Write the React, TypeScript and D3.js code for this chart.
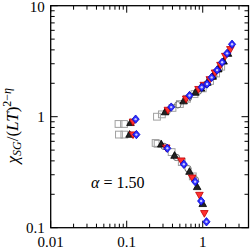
import React from "react";
import * as d3 from "d3";

const xTickLabels = ["0.01", "0.1", "1"];
const yTickLabels = ["0.1", "1", "10"];

// gray open squares
const sqX = [0.078, 0.092, 0.079, 0.093, 0.25, 0.29, 0.4, 0.5, 0.62, 0.78, 1.0, 1.25, 1.5, 1.75, 0.24, 0.255, 0.39, 0.53, 0.74];
const sqY = [0.86, 0.86, 0.69, 0.69, 1.0, 1.05, 1.2, 1.3, 1.45, 1.6, 1.8, 2.1, 2.45, 2.82, 0.58, 0.57, 0.48, 0.39, 0.29];
// gray open circles
const ciX = [0.34, 0.47, 0.65, 0.88, 1.12, 1.4, 1.65, 0.31, 0.45, 0.64, 0.8];
const ciY = [1.12, 1.28, 1.48, 1.7, 1.97, 2.32, 2.7, 0.54, 0.43, 0.34, 0.27];
// black up triangles
const upX = [0.112, 0.109, 0.32, 0.56, 0.8, 0.95, 1.15, 1.35, 1.6, 1.88, 2.15, 0.285, 0.426, 0.67, 0.845, 1.0];
const upY = [0.88, 0.69, 1.1, 1.38, 1.65, 1.8, 2.03, 2.3, 2.68, 3.15, 3.7, 0.564, 0.446, 0.32, 0.233, 0.164];
// red down triangles
const dnX = [0.121, 0.121, 0.348, 0.605, 0.88, 1.03, 1.24, 1.45, 1.71, 1.98, 2.31, 0.331, 0.521, 0.726, 0.905, 1.05];
const dnY = [0.9, 0.69, 1.15, 1.45, 1.77, 1.93, 2.17, 2.49, 2.92, 3.52, 4.05, 0.526, 0.402, 0.282, 0.197, 0.135];
// blue diamonds
const diX = [0.131, 0.134, 0.385, 0.67, 0.97, 1.14, 1.31, 1.545, 1.8, 2.09, 2.43, 0.342, 0.564, 0.795, 0.953, 1.12];
const diY = [0.95, 0.69, 1.22, 1.55, 1.84, 1.97, 2.26, 2.63, 3.09, 3.72, 4.49, 0.519, 0.373, 0.26, 0.174, 0.113];

const W = 250, H = 249;
const L = 50.7, R = 248.5, T = 5.7, B = 227.7;

export default function App() {
  const x = d3.scaleLog().domain([0.01, 4]).range([L, R]);
  const y = d3.scaleLog().domain([0.1, 10]).range([B, T]);

  const xMajor = [0.01, 0.1, 1];
  const xMinor: number[] = [];
  for (const d of [0.01, 0.1, 1]) for (let k = 2; k <= 9; k++) if (d * k <= 4) xMinor.push(d * k);
  const yMajor = [0.1, 1, 10];
  const yMinor: number[] = [];
  for (const d of [0.1, 1]) for (let k = 2; k <= 9; k++) yMinor.push(d * k);

  const font = "'Liberation Serif', 'DejaVu Serif', serif";
  const s = 3.4;
  const sym = (xs: number[], ys: number[], render: (cx: number, cy: number, i: number) => React.ReactNode) =>
    xs.map((v, i) => render(x(v), y(ys[i]), i));

  return (
    <svg width={W} height={H} style={{ position: "absolute", left: 0, top: 0, background: "#fff" }}>
      {xMajor.map((v) => (
        <g key={"xM" + v}>
          <line x1={x(v)} x2={x(v)} y1={B} y2={B - 7} stroke="#000" strokeWidth={1} />
          <line x1={x(v)} x2={x(v)} y1={T} y2={T + 7} stroke="#000" strokeWidth={1} />
        </g>
      ))}
      {xMinor.map((v) => (
        <g key={"xm" + v}>
          <line x1={x(v)} x2={x(v)} y1={B} y2={B - 4} stroke="#000" strokeWidth={1} />
          <line x1={x(v)} x2={x(v)} y1={T} y2={T + 4} stroke="#000" strokeWidth={1} />
        </g>
      ))}
      {yMajor.map((v) => (
        <g key={"yM" + v}>
          <line x1={L} x2={L + 7} y1={y(v)} y2={y(v)} stroke="#000" strokeWidth={1} />
          <line x1={R} x2={R - 7} y1={y(v)} y2={y(v)} stroke="#000" strokeWidth={1} />
        </g>
      ))}
      {yMinor.map((v) => (
        <g key={"ym" + v}>
          <line x1={L} x2={L + 4} y1={y(v)} y2={y(v)} stroke="#000" strokeWidth={1} />
          <line x1={R} x2={R - 4} y1={y(v)} y2={y(v)} stroke="#000" strokeWidth={1} />
        </g>
      ))}
      <rect x={L} y={T} width={R - L} height={B - T} fill="none" stroke="#000" strokeWidth={1.3} />

      {xMajor.map((v, i) => (
        <text key={"xl" + v} x={x(v)} y={B + 19} textAnchor="middle" fontFamily={font} fontSize={15}>
          {xTickLabels[i]}
        </text>
      ))}
      {yMajor.map((v, i) => (
        <text key={"yl" + v} x={L - 6} y={Math.max(y(v) + 5, 12)} textAnchor="end" fontFamily={font} fontSize={15}>
          {yTickLabels[i]}
        </text>
      ))}

      <text transform={`translate(18,${(T + B) / 2 + 9}) rotate(-90)`} textAnchor="middle" fontFamily={font} fontSize={17}>
        <tspan fontStyle="italic">χ</tspan>
        <tspan fontStyle="italic" fontSize={12} dy={3}>SG</tspan>
        <tspan dy={-3}>/(</tspan>
        <tspan fontStyle="italic">LT</tspan>
        <tspan>)</tspan>
        <tspan fontSize={12} dy={-7}>2−</tspan>
        <tspan fontSize={12} fontStyle="italic">η</tspan>
      </text>

      <text x={91} y={188} fontFamily={font} fontSize={16}>
        <tspan fontStyle="italic">α</tspan>
        <tspan> = 1.50</tspan>
      </text>

      {sym(sqX, sqY, (cx, cy, i) => (
        <rect key={"sq" + i} x={cx - s} y={cy - s} width={2 * s} height={2 * s} fill="none" stroke="#a0a0a0" strokeWidth={1} />
      ))}
      {sym(ciX, ciY, (cx, cy, i) => (
        <circle key={"ci" + i} cx={cx} cy={cy} r={3.2} fill="none" stroke="#6a6a6a" strokeWidth={1} />
      ))}
      {sym(upX, upY, (cx, cy, i) => (
        <path key={"up" + i} d={`M${cx},${cy - 4}L${cx + 3.8},${cy + 2.7}L${cx - 3.8},${cy + 2.7}Z`} fill="#222" stroke="#000" strokeWidth={0.8} />
      ))}
      {sym(dnX, dnY, (cx, cy, i) => (
        <path key={"dn" + i} d={`M${cx},${cy + 4}L${cx + 3.8},${cy - 2.7}L${cx - 3.8},${cy - 2.7}Z`} fill="#ff3030" stroke="#c00000" strokeWidth={0.8} />
      ))}
      {sym(diX, diY, (cx, cy, i) => (
        <g key={"di" + i}>
          <path d={`M${cx},${cy - 4.2}L${cx + 3.6},${cy}L${cx},${cy + 4.2}L${cx - 3.6},${cy}Z`} fill="#3030ff" stroke="#0000cc" strokeWidth={0.8} />
          <circle cx={cx} cy={cy} r={1.2} fill="#c8c8ff" />
        </g>
      ))}
    </svg>
  );
}
